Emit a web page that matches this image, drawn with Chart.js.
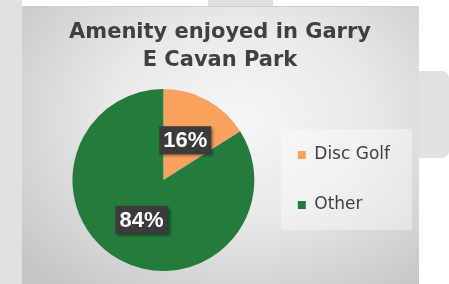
<!DOCTYPE html>
<html>
<head>
<meta charset="utf-8">
<script src="https://cdn.jsdelivr.net/npm/chart.js@4/dist/chart.umd.min.js"></script>
<style>
  html, body { margin: 0; padding: 0; background: #fff; width: 449px; height: 284px; overflow: hidden; position: relative; }
  .strip-left { position: absolute; left: 0; top: 0; width: 22px; height: 284px; background: #e1e1e1; }
  .tab-top { position: absolute; left: 208px; top: 0; width: 65px; height: 7px; background: #e0e0e0; }
  .tab-right { position: absolute; left: 412px; top: 71px; width: 37px; height: 87px; background: #e1e1e1; border-radius: 0 7px 7px 0; }
  #box {
    position: absolute; left: 22px; top: 6px; width: 397px; height: 278px;
    border-top: 1px solid #cdcdcd; box-sizing: border-box;
    background: radial-gradient(ellipse 72% 78% at 55% 40%, #f6f6f6 0%, #e9e9e9 45%, #c6c6c6 100%);
  }
  #c { position: absolute; left: 22px; top: 7px; }
</style>
</head>
<body>
<div class="strip-left"></div>
<div class="tab-top"></div>
<div class="tab-right"></div>
<div id="box"></div>
<canvas id="c" width="410" height="277"></canvas>
<script>
// data
const categories = ["Disc Golf", "Other"];
const shares = [16, 84];
const sliceColors = ["#f9a15d", "#237b3c"];
const titleLines = ["Amenity enjoyed in Garry", "E Cavan Park"];

// title sits centred over the plot box, not over the padded canvas
const titleShift = {
  id: 'titleShift',
  afterLayout(chart) {
    chart.titleBlock.left -= 11;
    chart.titleBlock.right -= 11;
  }
};

// light panel behind the legend
const legendPanel = {
  id: 'legendPanel',
  beforeDraw(chart) {
    const lg = chart.legend;
    const ctx = chart.ctx;
    const mid = (lg.top + lg.bottom) / 2;
    ctx.save();
    ctx.fillStyle = 'rgba(255,255,255,0.38)';
    ctx.fillRect(lg.left + 16, mid - 51, 131, 101);
    ctx.restore();
  }
};

// percentage labels in dark boxes
const pctLabels = {
  id: 'pctLabels',
  afterDatasetsDraw(chart) {
    const ctx = chart.ctx;
    const vals = chart.data.datasets[0].data;
    chart.getDatasetMeta(0).data.forEach((arc, i) => {
      const p = arc.tooltipPosition();
      const txt = vals[i] + '%';
      ctx.save();
      ctx.font = 'bold 22px "Liberation Sans", Arial, sans-serif';
      const w = ctx.measureText(txt).width + 8;
      const h = 28;
      ctx.shadowColor = 'rgba(0,0,0,0.45)';
      ctx.shadowBlur = 3;
      ctx.shadowOffsetX = 2;
      ctx.shadowOffsetY = 2;
      ctx.fillStyle = '#3b3b3b';
      ctx.fillRect(p.x - w / 2, p.y - h / 2, w, h);
      ctx.shadowColor = 'transparent';
      ctx.fillStyle = '#ffffff';
      ctx.textAlign = 'center';
      ctx.textBaseline = 'middle';
      ctx.fillText(txt, p.x, p.y + 1);
      ctx.restore();
    });
  }
};

new Chart("c", {
  type: "pie",
  data: {
    labels: categories,
    datasets: [{
      data: shares,
      backgroundColor: sliceColors,
      borderWidth: 0
    }]
  },
  options: {
    responsive: false,
    animation: false,
    events: [],
    layout: { padding: { left: 40, right: 32, top: 0, bottom: 13 } },
    plugins: {
      title: {
        display: true,
        text: titleLines,
        color: '#404040',
        font: { family: "'DejaVu Sans'", size: 21, weight: 'bold', lineHeight: 1.36 },
        padding: { top: 11, bottom: 14 }
      },
      legend: {
        position: 'right',
        fullSize: false,
        labels: {
          color: '#404040',
          font: { family: "'DejaVu Sans'", size: 17 },
          boxWidth: 8,
          boxHeight: 8,
          padding: 33
        }
      },
      tooltip: { enabled: false }
    }
  },
  plugins: [titleShift, legendPanel, pctLabels]
});
</script>
</body>
</html>
